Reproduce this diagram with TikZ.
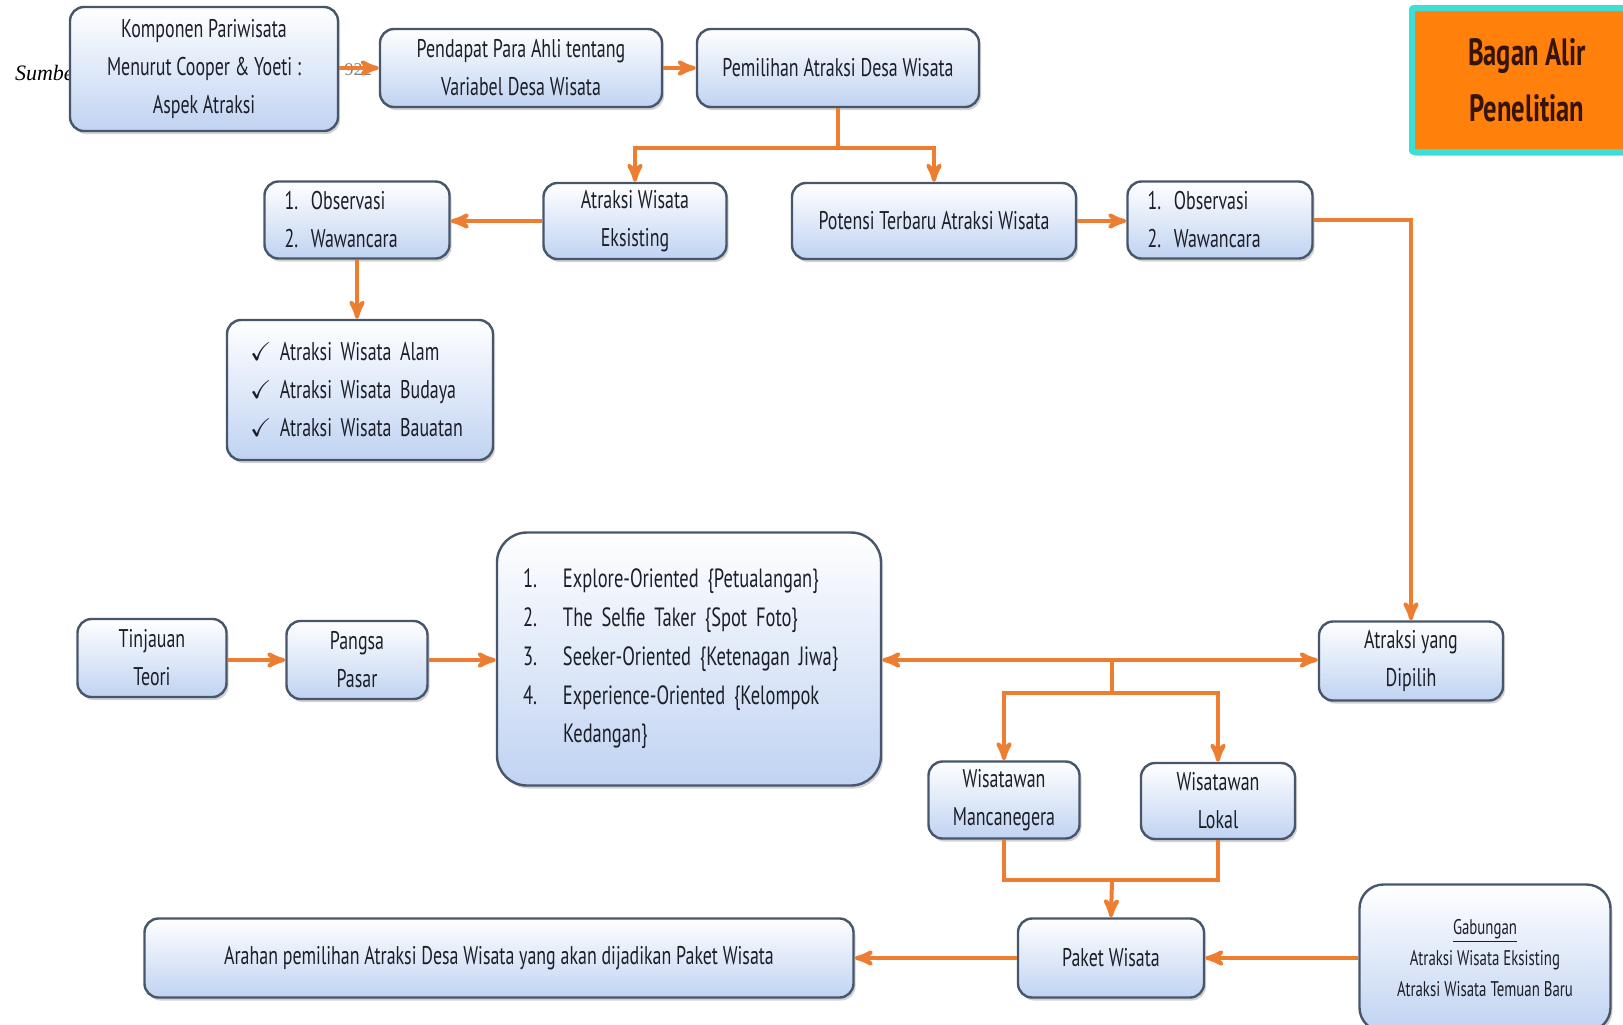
\documentclass[tikz,border=0pt]{standalone}
\usepackage{amssymb}
\usepackage{fontspec}
\setmainfont{Liberation Serif}
\newfontfamily\boxfont{PT Sans}[FakeStretch=0.7]
\usetikzlibrary{positioning, arrows, shadows}
\definecolor{arrorange}{RGB}{237,125,49}
\definecolor{boxblue}{RGB}{192,211,242}
\definecolor{boxline}{RGB}{72,86,108}
\definecolor{boxtext}{RGB}{28,30,40}
\definecolor{titleorange}{RGB}{255,128,10}
\definecolor{titleedge}{RGB}{60,222,214}
\tikzset{
x=0.5pt, y=-0.5pt, % one unit = one pixel of the reference
>=stealth', % bold arrow heads
box/.style={draw=boxline, line width=1.2pt, rounded corners=7pt,
  top color=white, bottom color=boxblue, text=boxtext,
  drop shadow={shadow xshift=1pt, shadow yshift=-1.5pt, opacity=0.35},
  align=center, font=\boxfont\fontsize{12.8}{19}\selectfont, inner sep=0pt},
listbox/.style={box, align=left, inner xsep=10pt},
line/.style={draw=arrorange, line width=2pt},
link/.style={line, ->},
}
\begin{document}
\begin{tikzpicture}
\useasboundingbox (0,0) rectangle (1623,1024);
\fill[white] (0,0) rectangle (1623,1024);
% stray caption fragments behind the top row
\node[anchor=west, font=\itshape\fontsize{11}{13}\selectfont] (sumber) at (8,73) {Sumber};
\node[text=gray, font=\fontsize{9}{11}\selectfont] (tahun) at (358,70) {922};
% top row
\node[box, minimum width=134pt, minimum height=62pt] (komponen) at (204,69) {Komponen Pariwisata\\Menurut Cooper \& Yoeti :\\Aspek Atraksi};
\node[box, minimum width=141pt, minimum height=39pt] (pendapat) at (521,68) {Pendapat Para Ahli tentang\\Variabel Desa Wisata};
\node[box, minimum width=141pt, minimum height=39pt] (pemilihan) at (838,68) {Pemilihan Atraksi Desa Wisata};
\node[draw=titleedge, line width=3pt, fill=titleorange, rounded corners=1pt,
      drop shadow={shadow xshift=1pt, shadow yshift=-2pt, opacity=0.35},
      minimum width=115pt, minimum height=72pt, align=center,
      text={rgb,255:red,55;green,20;blue,10},
      font=\boxfont\bfseries\fontsize{19}{28}\selectfont] (judul) at (1527,80) {Bagan Alir\\Penelitian};
% second row
\node[box, minimum width=91.5pt, minimum height=38pt] (eksisting) at (635,221) {Atraksi Wisata\\Eksisting};
\node[box, minimum width=142pt, minimum height=38pt] (potensi) at (934,221) {Potensi Terbaru Atraksi Wisata};
\node[listbox, text width=72.5pt, minimum height=38.5pt] (obsL) at (357,220) {1. Observasi\\2. Wawancara};
\node[listbox, text width=72.5pt, minimum height=38.5pt] (obsR) at (1220,220) {1. Observasi\\2. Wawancara};
\node[listbox, inner xsep=11.5pt, text width=110pt, minimum height=70pt] (jenis) at (360,390)
  {$\checkmark$\ Atraksi Wisata Alam\\$\checkmark$\ Atraksi Wisata Budaya\\$\checkmark$\ Atraksi Wisata Bauatan};
% middle row
\node[box, minimum width=74.5pt, minimum height=39pt] (tinjauan) at (152,658) {Tinjauan\\Teori};
\node[box, minimum width=70.5pt, minimum height=39pt] (pangsa) at (357,660) {Pangsa\\Pasar};
\node[listbox, rounded corners=15pt, inner xsep=13pt, text width=166pt, minimum height=126.5pt,
      font=\boxfont\fontsize{13.2}{19.4}\selectfont] (segmen) at (689,659)
  {\makebox[20pt][l]{1.}Explore-Oriented \{Petualangan\}\\
   \makebox[20pt][l]{2.}The Selfie Taker \{Spot Foto\}\\
   \makebox[20pt][l]{3.}Seeker-Oriented \{Ketenagan Jiwa\}\\
   \makebox[20pt][l]{4.}Experience-Oriented \{Kelompok\\
   \hspace*{20pt}Kedangan\}};
\node[box, minimum width=92pt, minimum height=39.5pt] (dipilih) at (1411,661) {Atraksi yang\\Dipilih};
\node[box, minimum width=75.5pt, minimum height=38.5pt] (manca) at (1004,800) {Wisatawan\\Mancanegera};
\node[box, minimum width=77pt, minimum height=38pt] (lokal) at (1218,801) {Wisatawan\\Lokal};
% bottom row
\node[box, minimum width=93pt, minimum height=39.5pt] (paket) at (1111,958) {Paket Wisata};
\node[box, minimum width=354.5pt, minimum height=39.5pt] (arahan) at (499,958) {Arahan pemilihan Atraksi Desa Wisata yang akan dijadikan Paket Wisata};
\node[box, rounded corners=12pt, minimum width=125.5pt, minimum height=73.5pt,
      font=\boxfont\fontsize{10.6}{15.5}\selectfont] (gabungan) at (1485,958)
  {\underline{Gabungan}\\Atraksi Wisata Eksisting\\Atraksi Wisata Temuan Baru};
% connectors
\coordinate (cabang1) at (838,148);
\coordinate (simpul) at (1112,660);
\coordinate (cabang2) at (1112,693);
\coordinate (gabung) at (1112,880);
\draw[link] (komponen.east |- pendapat) -- (pendapat.west);
\draw[link] (pendapat) -- (pemilihan);
\draw[line] (pemilihan.south) -- (cabang1);
\draw[link] (cabang1) -| (eksisting.north);
\draw[link] (cabang1) -| (potensi.north);
\draw[link] (eksisting.west) -- (eksisting.west -| obsL.east);
\draw[link] (obsL.south) -- (obsL.south |- jenis.north);
\draw[link] (potensi.east) -- (potensi.east -| obsR.west);
\draw[link] (obsR.east) -| (dipilih.north);
\draw[link] (tinjauan.east |- pangsa) -- (pangsa.west);
\draw[link] (pangsa.east) -- (pangsa.east -| segmen.west);
\draw[link] (simpul) -- (simpul -| segmen.east);
\draw[link] (simpul) -- (simpul -| dipilih.west);
\draw[line] (simpul) -- (cabang2);
\draw[link] (cabang2) -| (manca.north);
\draw[link] (cabang2) -| (lokal.north);
\draw[line] (manca.south) |- (gabung) -| (lokal.south);
\draw[link] (gabung) -- (paket.north);
\draw[link] (paket.west) -- (arahan.east);
\draw[link] (gabungan.west |- paket) -- (paket.east);
\end{tikzpicture}
\end{document}
